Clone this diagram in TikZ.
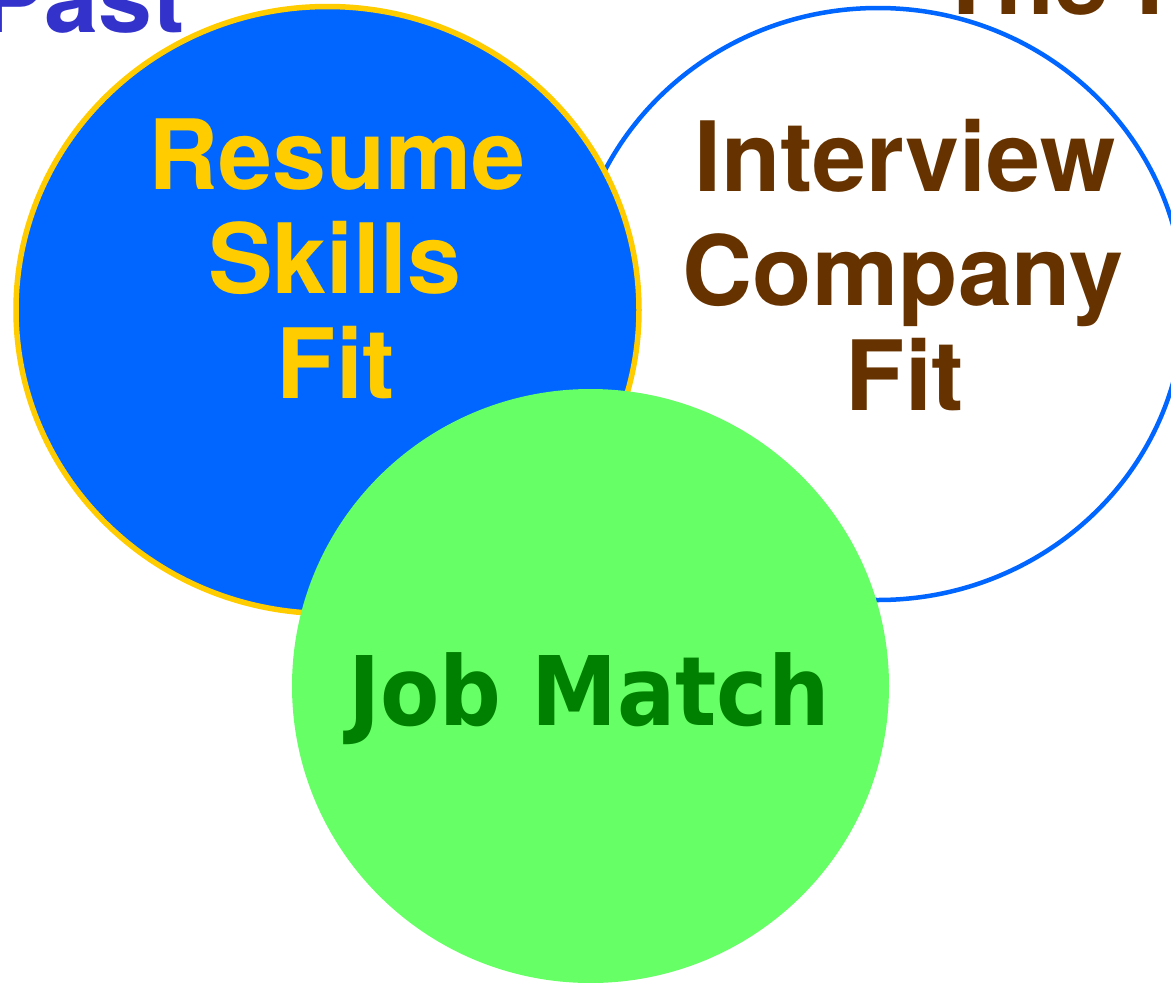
\documentclass[tikz,border=0pt]{standalone}
\usepackage{fontspec}
\setmainfont{TeX Gyre Heros}
\newfontfamily\jobfont{DejaVu Sans Condensed}
\definecolor{pastblue}{HTML}{3333CC}
\definecolor{skyblue}{HTML}{0066FF}
\definecolor{gold}{HTML}{FFCC00}
\definecolor{brown}{HTML}{663300}
\definecolor{lime}{HTML}{66FF66}
\definecolor{darkgreen}{HTML}{008000}
\tikzset{
  big/.style={font=\fontsize{97}{104}\selectfont\bfseries, anchor=base, inner sep=0pt},
  jobtext/.style={font=\jobfont\fontsize{96}{104}\selectfont\bfseries, anchor=base, inner sep=0pt}
}
\begin{document}
\begin{tikzpicture}[x=1pt,y=-1pt]
\useasboundingbox (0,0) rectangle (1171,983);
\clip (0,0) rectangle (1171,983);
\fill[white] (0,0) rectangle (1171,983);
% heading words along the top edge
\node[big, anchor=base west, text=pastblue] (past) at (-20,32) {Past};
\node[big, anchor=base west, text=brown] (present) at (936,14) {The Present};
% interview circle
\draw[skyblue, line width=4.5pt, fill=white] (878,304) ellipse [x radius=306, y radius=296];
% resume circle
\draw[gold, line width=5.5pt, fill=skyblue] (327.5,310) ellipse [x radius=311.5, y radius=303.5];
% job match circle
\fill[lime] (590.5,686) ellipse [x radius=298.5, y radius=297];
% labels
\node[big, text=gold] (resume) at (337,189) {Resume};
\node[big, text=gold] (skills) at (335,293) {Skills};
\node[big, text=gold] (fit1) at (336,398) {Fit};
\node[big, text=brown] (interview) at (905,191) {Interview};
\node[big, text=brown] (company) at (903,305) {Company};
\node[big, text=brown] (fit2) at (905,410) {Fit};
\node[jobtext, text=darkgreen] (job) at (589,725) {Job Match};
\end{tikzpicture}
\end{document}
